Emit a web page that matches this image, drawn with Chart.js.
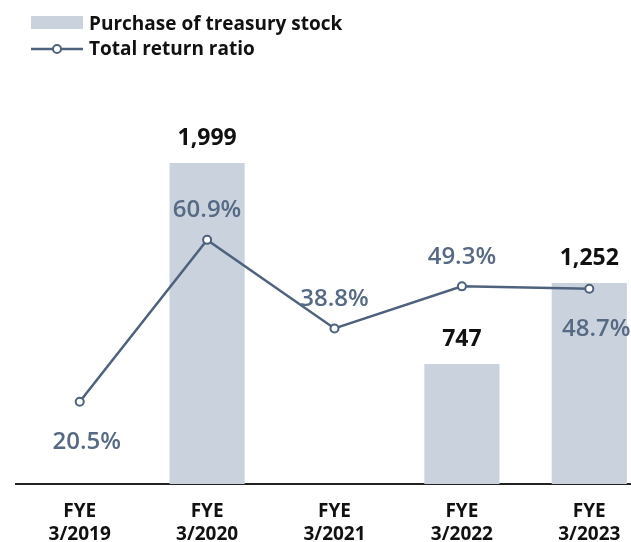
<!DOCTYPE html>
<html><head><meta charset="utf-8">
<script src="https://cdn.jsdelivr.net/npm/chart.js@4"></script>
<style>
html,body{margin:0;padding:0;background:#fff;overflow:hidden;}
#wrap{position:relative;width:631px;height:542px;overflow:hidden;background:#fff;}
#c{position:absolute;left:0;top:0;}
</style></head><body>
<div id="wrap"><canvas id="c" width="660" height="570" style="width:660px;height:570px"></canvas></div>
<script>
const categories = [['FYE','3/2019'],['FYE','3/2020'],['FYE','3/2021'],['FYE','3/2022'],['FYE','3/2023']];
const treasuryPurchase = [null, 1999, null, 747, 1252];
const totalReturnRatio = [20.5, 60.9, 38.8, 49.3, 48.7];
const ratioLabelSide = ['below','above','above','above','below'];
const seriesNames = ['Purchase of treasury stock','Total return ratio'];

const BAR_COLOR = '#cad3dd';
const LINE_COLOR = '#4e627d';
const PCT_COLOR = '#566a85';
const TEXT_COLOR = '#111111';
const FONT = '"Open Sans", "Noto Sans", sans-serif';

const labelPlugin = {
  id: 'customLabels',
  afterDatasetsDraw(chart) {
    const ctx = chart.ctx;
    const barMeta = chart.getDatasetMeta(0);
    const lineMeta = chart.getDatasetMeta(1);
    ctx.save();
    ctx.textAlign = 'center';
    ctx.textBaseline = 'alphabetic';
    ctx.font = 'bold 23px ' + FONT;
    ctx.fillStyle = TEXT_COLOR;
    barMeta.data.forEach((el, i) => {
      const v = treasuryPurchase[i];
      if (v == null) return;
      ctx.fillText(v.toLocaleString('en-US'), el.x, el.y - 18);
    });
    ctx.font = '600 24px ' + FONT;
    ctx.fillStyle = PCT_COLOR;
    lineMeta.data.forEach((el, i) => {
      const below = ratioLabelSide[i] === 'below';
      ctx.fillText(totalReturnRatio[i].toFixed(1) + '%', el.x + (below ? 7 : 0), el.y + (below ? 47 : -22.5));
    });
    ctx.restore();
  },
  afterDraw(chart) {
    const ctx = chart.ctx;
    ctx.save();
    ctx.fillStyle = BAR_COLOR;
    ctx.fillRect(31, 16, 52, 13);
    ctx.strokeStyle = LINE_COLOR;
    ctx.lineWidth = 2.5;
    ctx.beginPath();
    ctx.moveTo(31, 49); ctx.lineTo(83, 49);
    ctx.stroke();
    ctx.beginPath();
    ctx.arc(57, 49, 4, 0, Math.PI * 2);
    ctx.fillStyle = '#fff';
    ctx.fill();
    ctx.lineWidth = 2;
    ctx.stroke();
    ctx.fillStyle = TEXT_COLOR;
    ctx.font = 'bold 19px ' + FONT;
    ctx.textAlign = 'left';
    ctx.textBaseline = 'alphabetic';
    ctx.fillText(seriesNames[0], 89, 29.5);
    ctx.fillText(seriesNames[1], 89, 55);
    ctx.restore();
  }
};

new Chart(document.getElementById('c'), {
  type: 'bar',
  data: {
    labels: categories,
    datasets: [
      {
        type: 'bar',
        label: seriesNames[0],
        data: treasuryPurchase,
        backgroundColor: BAR_COLOR,
        borderWidth: 0,
        categoryPercentage: 1,
        barPercentage: 0.59,
        yAxisID: 'y',
        order: 2
      },
      {
        type: 'line',
        label: seriesNames[1],
        data: totalReturnRatio,
        borderColor: LINE_COLOR,
        borderWidth: 2.5,
        pointRadius: 4,
        pointBackgroundColor: '#ffffff',
        pointBorderColor: LINE_COLOR,
        pointBorderWidth: 2,
        tension: 0,
        yAxisID: 'y1',
        order: 1
      }
    ]
  },
  options: {
    responsive: false,
    animation: false,
    devicePixelRatio: 1,
    layout: { padding: { left: 16, right: 7, top: 100, bottom: 7.5 } },
    plugins: { legend: { display: false }, tooltip: { enabled: false } },
    scales: {
      x: {
        offset: true,
        grid: { display: false, drawTicks: false },
        border: { display: true, color: '#222222', width: 2 },
        ticks: {
          padding: 16.5,
          color: TEXT_COLOR,
          font: { family: FONT, size: 19, weight: 'bold', lineHeight: 1.2 },
          maxRotation: 0,
          autoSkip: false
        }
      },
      y: { display: false, min: 0, max: 2392 },
      y1: { display: false, min: 0, max: 95.8, position: 'right' }
    }
  },
  plugins: [labelPlugin]
});
</script>
</body></html>
